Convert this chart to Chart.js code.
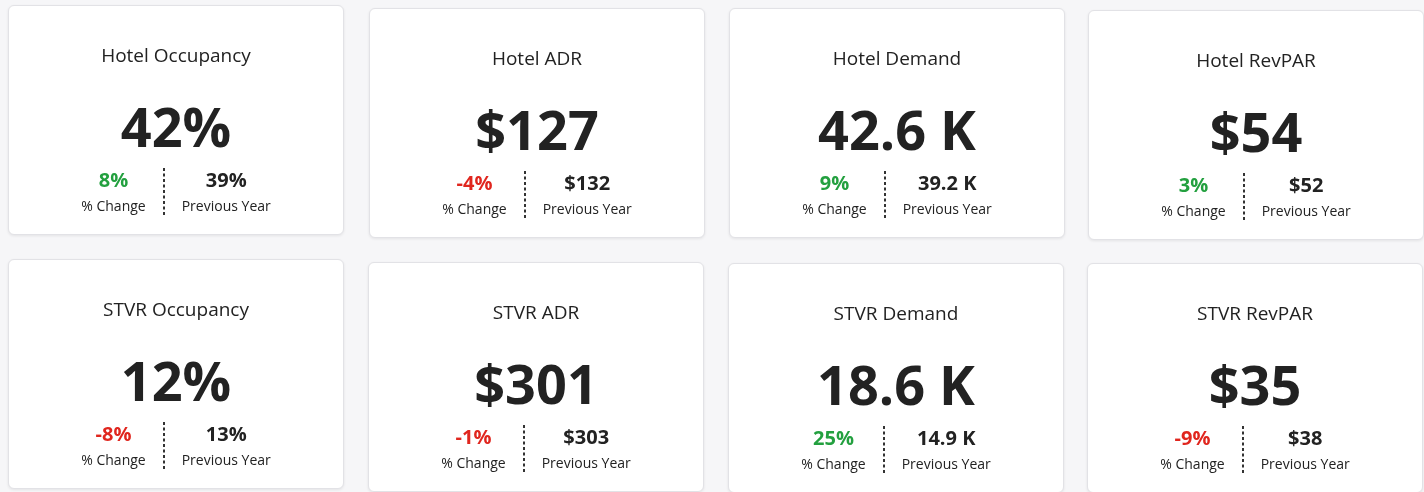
<!DOCTYPE html>
<html>
<head>
<meta charset="utf-8">
<script src="https://cdn.jsdelivr.net/npm/chart.js@4"></script>
<style>
  html, body { margin: 0; padding: 0; }
  body { width: 1424px; height: 492px; background: #f6f6f8; position: relative; overflow: hidden; font-family: 'Open Sans', sans-serif; }
  .card { position: absolute; background: #ffffff; border: 1px solid #e2e2e6; border-radius: 6px; box-shadow: 0 1px 3px rgba(0,0,0,0.08); box-sizing: border-box; overflow: hidden; }
  .card canvas { display: block; }
</style>
</head>
<body>
<script>
// ---- Data ----
const titles = ['Hotel Occupancy', 'Hotel ADR', 'Hotel Demand', 'Hotel RevPAR',
                'STVR Occupancy', 'STVR ADR', 'STVR Demand', 'STVR RevPAR'];
const values = ['42%', '$127', '42.6 K', '$54', '12%', '$301', '18.6 K', '$35'];
const pctChange = [8, -4, 9, 3, -8, -1, 25, -9];
const previousYear = ['39%', '$132', '39.2 K', '$52', '13%', '$303', '14.9 K', '$38'];
const changeLabel = '% Change';
const prevLabel = 'Previous Year';

// ---- Layout (card positions) ----
const cardLefts = [8, 369, 729, 1088, 8, 368, 728, 1087];
const cardTops = [5, 8, 8, 10, 259, 262, 263, 263];
const cardW = 336, cardH = 230;

const GREEN = '#23a03f', RED = '#e0261e', DARK = '#222222';

const kpiPlugin = {
  id: 'kpi',
  afterDraw(chart, args, opts) {
    const i = opts.index;
    const ctx = chart.ctx;
    const W = chart.width;
    const cx = W / 2;
    ctx.save();
    // big value
    ctx.fillStyle = DARK;
    ctx.textAlign = 'center';
    ctx.textBaseline = 'alphabetic';
    ctx.font = 'bold 54px "Open Sans"';
    ctx.fillText(values[i], cx, 141);
    // sub row
    const chg = pctChange[i];
    const chgText = chg + '%';
    ctx.font = 'bold 20px "Open Sans"';
    const wChgV = ctx.measureText(chgText).width;
    const wPrevV = ctx.measureText(previousYear[i]).width;
    ctx.font = '14px "Open Sans"';
    const wChgL = ctx.measureText(changeLabel).width;
    const wPrevL = ctx.measureText(prevLabel).width;
    const leftW = Math.max(wChgV, wChgL);
    const rightW = Math.max(wPrevV, wPrevL);
    const gap = 18;
    const total = leftW + gap * 2 + rightW;
    const x0 = cx - total / 2;
    const leftC = x0 + leftW / 2;
    const divX = x0 + leftW + gap;
    const rightC = divX + gap + rightW / 2;
    ctx.font = 'bold 20px "Open Sans"';
    ctx.fillStyle = chg >= 0 ? GREEN : RED;
    ctx.fillText(chgText, leftC, 181);
    ctx.fillStyle = DARK;
    ctx.fillText(previousYear[i], rightC, 181);
    ctx.font = '14px "Open Sans"';
    ctx.fillStyle = DARK;
    ctx.fillText(changeLabel, leftC, 205);
    ctx.fillText(prevLabel, rightC, 205);
    // dashed divider
    ctx.strokeStyle = '#333';
    ctx.lineWidth = 2;
    ctx.setLineDash([3, 2.5]);
    ctx.beginPath();
    ctx.moveTo(Math.round(divX), 162);
    ctx.lineTo(Math.round(divX), 209);
    ctx.stroke();
    ctx.restore();
  }
};

titles.forEach((t, i) => {
  const div = document.createElement('div');
  div.className = 'card';
  div.style.left = cardLefts[i] + 'px';
  div.style.top = cardTops[i] + 'px';
  div.style.width = cardW + 'px';
  div.style.height = cardH + 'px';
  const canvas = document.createElement('canvas');
  canvas.width = cardW - 2;
  canvas.height = cardH - 2;
  div.appendChild(canvas);
  document.body.appendChild(div);
  new Chart(canvas, {
    type: 'bar',
    data: { labels: [], datasets: [] },
    plugins: [kpiPlugin],
    options: {
      responsive: false,
      animation: false,
      events: [],
      scales: { x: { display: false }, y: { display: false } },
      plugins: {
        legend: { display: false },
        tooltip: { enabled: false },
        title: {
          display: true,
          text: t,
          color: DARK,
          font: { family: '"Open Sans"', size: 19, weight: 'normal' },
          padding: { top: 39, bottom: 0 }
        },
        kpi: { index: i }
      }
    }
  });
});
</script>
</body>
</html>
